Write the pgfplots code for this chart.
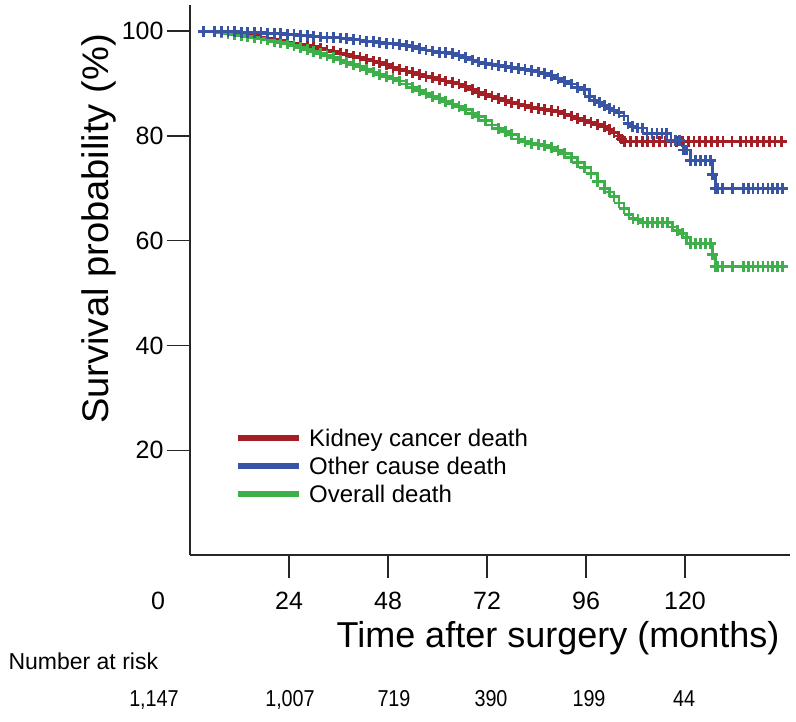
\documentclass[border=0pt]{standalone}
\usepackage{pgfplots}
\pgfplotsset{compat=1.18}
\usepackage{pgfplotstable}
\usepackage{fontspec}
\setmainfont{Liberation Sans}

\definecolor{kred}{RGB}{164,30,38}
\definecolor{kblue}{RGB}{56,84,164}
\definecolor{kgreen}{RGB}{62,176,74}

% Kaplan-Meier estimates, one row per censored case (months, survival %)
\pgfplotstableread{
t s
3.2 100
6 100
7.6 99.9
9.2 99.8
10.8 99.7
12.4 99.5
14 99.3
15.6 99.1
17.2 98.9
18.8 98.7
20.4 98.4
22 98.2
23.6 97.9
25.2 97.7
26.8 97.5
28.4 97.3
30 97.0
31.6 96.7
33.2 96.4
34.8 96.1
36.4 95.8
38 95.5
39.6 95.2
41.2 94.9
42.8 94.6
44.4 94.3
46 94.0
47.6 93.6
49.2 93.0
50.8 92.7
52.4 92.4
54 92.1
55.6 91.8
57.2 91.4
58.8 91.1
60.4 90.8
62 90.5
63.6 90.2
65.2 89.9
66.8 89.4
68.4 88.9
70 88.3
71.6 87.9
73.2 87.6
74.8 87.2
76.4 86.8
78 86.4
79.6 86.1
81.2 85.8
82.8 85.5
84.4 85.2
86 85.0
87.6 84.8
89.2 84.6
90.8 84.2
92.4 83.8
94 83.4
95.6 83.0
97.2 82.6
98.8 82.2
100.4 81.8
101.6 81.2
102.8 80.6
103.8 80.0
104.6 79.4
105.4 78.9
106.8 78.9
108.2 78.9
109.6 78.9
111 78.9
112.4 78.9
113.8 78.9
115.2 78.9
116.6 78.9
118 78.9
119.4 78.9
120.8 78.9
122.2 78.9
123.6 78.9
125 78.9
126.4 78.9
127.8 78.9
129.2 78.9
131.4 78.9
133.4 78.9
134.8 78.9
136.2 78.9
137.6 78.9
139 78.9
140.4 78.9
141.8 78.9
143.4 78.9
}\kidney

\pgfplotstableread{
t s
3.2 100
6 100
7.6 99.9
9.2 99.9
10.8 99.9
12.4 99.8
14 99.8
15.6 99.7
17.2 99.7
18.8 99.6
20.4 99.6
22 99.5
23.6 99.4
25.2 99.3
26.8 99.2
28.4 99.1
30 99.0
31.6 98.9
33.2 98.8
34.8 98.8
36.4 98.7
38 98.6
39.6 98.4
41.2 98.3
42.8 98.1
44.4 98.0
46 97.9
47.6 97.7
49.2 97.6
50.8 97.4
52.4 97.2
54 97.0
55.6 96.7
57.2 96.4
58.8 96.2
60.4 96.0
62 95.9
63.6 95.7
65.2 95.3
66.8 94.9
68.4 94.5
70 94.1
71.6 93.9
73.2 93.7
74.8 93.5
76.4 93.3
78 93.0
79.6 92.9
81.2 92.7
82.8 92.5
84.4 92.2
86 91.9
87.6 91.6
89.2 91.0
90.8 90.4
92.4 89.9
94 89.3
95.6 88.8
96.8 87.5
98 86.8
99.2 86.4
100.4 85.8
101.6 85.2
102.8 84.8
104 84.4
105.2 83.8
106.2 82.4
107.2 81.8
108.4 81.5
109.6 81.5
110.8 80.5
112 80.5
113.2 80.5
114.4 80.5
115.6 80.5
116.6 79.2
117.6 79.2
118.6 79.2
119.6 77.3
120.4 77.3
121.4 75.3
122.6 75.3
123.8 75.3
125 75.3
126.2 75.3
126.6 72.6
127.3 70
128 70
129 70
131.6 70
134.1 70
135.3 70
136.5 70
137.7 70
138.9 70
140.1 70
141.3 70
142.5 70
143.6 70
}\other

\pgfplotstableread{
t s
3.2 100
6 99.9
7.6 99.7
9.2 99.5
10.8 99.4
12.4 99.2
14 99.0
15.6 98.8
17.2 98.6
18.8 98.3
20.4 98.1
22 97.9
23.6 97.6
25.2 97.3
26.8 96.9
28.4 96.5
30 96.1
31.6 95.7
33.2 95.3
34.8 94.9
36.4 94.5
38 94.0
39.6 93.6
41.2 93.2
42.8 92.7
44.4 92.2
46 91.8
47.6 91.4
49.2 91.0
50.8 90.5
52.4 89.9
54 89.2
55.6 88.6
57.2 88.1
58.8 87.6
60.4 87.1
62 86.6
63.6 86.1
65.2 85.6
66.8 85.0
68.4 84.3
70 83.7
71.6 83.0
73.2 82.1
74.8 81.4
76.4 80.8
78 80.2
79.6 79.4
81.2 79.0
82.8 78.6
84.4 78.3
86 78.1
87.6 77.8
89.2 77.2
90.8 76.6
92.4 75.9
94 75.0
95.6 73.9
97.2 72.8
98.8 71.3
100.4 70.0
101.6 69.3
102.8 68.5
104 67.2
105.2 66.1
106.4 65.0
107.4 64.2
108.6 64.0
109.8 63.5
111 63.5
112.2 63.5
113.4 63.5
114.6 63.5
115.8 63.5
117 62.6
118.2 62.0
119.4 61.3
120.4 60.6
121.4 59.5
122.6 59.5
123.8 59.5
125 59.5
126.2 59.5
126.6 57.3
127.3 55
128 55
129 55
131.6 55
134.1 55
135.3 55
136.5 55
137.7 55
138.9 55
140.1 55
141.3 55
142.5 55
143.6 55
}\overall

\begin{document}
\begin{tikzpicture}
\useasboundingbox (0,0) rectangle (796pt,722pt);
\begin{axis}[
  at={(190pt,167pt)}, anchor=south west,
  scale only axis, width=600pt, height=550pt,
  xmin=0, xmax=145.45, ymin=0, ymax=105,
  axis x line=bottom, axis y line=left,
  axis line style={-, line width=1.4pt, black!85},
  xtick={24,48,72,96,120}, ytick={20,40,60,80,100},
  tick align=outside, major tick length=23pt,
  tick style={line width=1.4pt, black!85},
  /pgf/number format/assume math mode=true,
  ticklabel style={font=\fontsize{25}{30}\selectfont},
  xticklabel style={yshift=-11pt},
  legend style={at={(rel axis cs:0.07,0.235)}, anchor=north west,
    draw=none, fill=none, font=\fontsize{24}{28}\selectfont,
    row sep=7pt, nodes={inner sep=1pt},
    /tikz/every odd column/.append style={column sep=6pt}},
  legend cell align=left,
  legend image code/.code={\draw[#1] (0pt,0pt) -- (61pt,0pt);},
  every axis plot/.append style={const plot, line width=2.8pt,
    mark=+, mark size=5.4pt, mark options={line width=2.8pt}},
]
\addplot[kred, forget plot] table[x=t, y=s] {\kidney};
\addplot[kgreen, forget plot] table[x=t, y=s] {\overall};
\addplot[kblue, forget plot] table[x=t, y=s] {\other};
\addlegendimage{kred, line width=6pt}
\addlegendentry{Kidney cancer death}
\addlegendimage{kblue, line width=6pt}
\addlegendentry{Other cause death}
\addlegendimage{kgreen, line width=6pt}
\addlegendentry{Overall death}
\end{axis}
\node[anchor=base, font=\fontsize{25}{30}\selectfont] at (158pt,112pt) {0};
\node[rotate=90, anchor=base, font=\fontsize{37}{44}\selectfont] at (108pt,493pt) {\scalebox{1.03}[1]{Survival probability (\%)}};
\node[anchor=base, font=\fontsize{36}{42}\selectfont] at (558pt,74pt) {Time after surgery (months)};
\node[anchor=base west, font=\fontsize{23}{28}\selectfont] at (5pt,52pt) {Number at risk};
\begin{scope}[font=\fontsize{23}{26}\selectfont]
\node[anchor=base] at (154pt,15pt) {\scalebox{0.86}[1]{1,147}};
\node[anchor=base] at (290pt,15pt) {\scalebox{0.86}[1]{1,007}};
\node[anchor=base] at (394pt,15pt) {\scalebox{0.86}[1]{719}};
\node[anchor=base] at (491pt,15pt) {\scalebox{0.86}[1]{390}};
\node[anchor=base] at (589pt,15pt) {\scalebox{0.86}[1]{199}};
\node[anchor=base] at (684pt,15pt) {\scalebox{0.86}[1]{44}};
\end{scope}
\end{tikzpicture}
\end{document}
